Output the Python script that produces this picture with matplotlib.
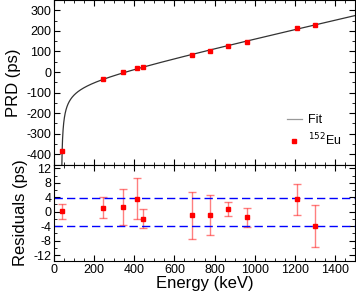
import numpy as np
import matplotlib.pyplot as plt
from matplotlib.ticker import MultipleLocator

plt.rcParams['font.family'] = ['Liberation Sans', 'DejaVu Sans']
plt.rcParams['axes.unicode_minus'] = False

# 152Eu lines (keV) and measured PRD (ps)
energy = np.array([40.0, 244.7, 344.3, 411.1, 444.0, 688.7, 778.9, 867.4, 964.1, 1212.9, 1299.1])
prd = np.array([-384, -34, -2, 18, 23, 81, 104, 128, 147, 214, 230])

# residuals of the fit (ps) with their uncertainties
resid = np.array([0.1, 1.1, 1.4, 3.6, -1.9, -1.0, -1.0, 0.8, -1.5, 3.4, -3.9])
resid_err = np.array([2.15, 2.9, 5.0, 5.6, 2.7, 6.4, 5.5, 1.9, 2.6, 4.25, 5.75])
band = 3.9

# fit PRD(E) = a/sqrt(E+b) + c*E + d with the offset b fixed
b_fit = -35.0
A = np.column_stack([1 / np.sqrt(energy + b_fit), energy, np.ones_like(energy)])
(a_fit, c_fit, d_fit), *_ = np.linalg.lstsq(A, prd, rcond=None)

e_fit = -b_fit + np.geomspace(0.01, 1500 + b_fit, 2000)
prd_fit = a_fit / np.sqrt(e_fit + b_fit) + c_fit * e_fit + d_fit

fig = plt.figure(figsize=(3.56, 2.91), dpi=100)
ax1 = fig.add_axes([0.152, 0.433, 0.845, 0.567])
ax2 = fig.add_axes([0.152, 0.103, 0.845, 0.330], sharex=ax1)

ax1.plot(e_fit, prd_fit, color='0.2', lw=0.9, label='Fit')
ax1.plot(energy, prd, 's', color='red', ms=3, label='$^{152}$Eu')
ax1.set_ylim(-452, 350)
ax1.set_ylabel('PRD (ps)', fontsize=12)
leg = ax1.legend(loc='lower right', bbox_to_anchor=(0.985, 0.05), frameon=False,
                 fontsize=9, handlelength=1.2, handletextpad=0.5, labelspacing=0.4,
                 borderpad=0.2)
leg.get_lines()[0].set_color('0.6')

ax2.errorbar(energy, resid, yerr=resid_err, fmt='s', color='red', ms=3,
             ecolor=(1, 0, 0, 0.5), elinewidth=1, capsize=3, capthick=1)
ax2.axhline(band, color='blue', ls='--', lw=1, dashes=(6, 3))
ax2.axhline(-band, color='blue', ls='--', lw=1, dashes=(6, 3))
ax2.set_ylim(-13.6, 12.9)
ax2.set_xlim(0, 1500)
ax2.set_xlabel('Energy (keV)', fontsize=12, labelpad=0)
ax2.set_ylabel('Residuals (ps)', fontsize=12)

ax1.yaxis.set_major_locator(MultipleLocator(100))
ax1.yaxis.set_minor_locator(MultipleLocator(50))
ax2.yaxis.set_major_locator(MultipleLocator(4))
ax2.yaxis.set_minor_locator(MultipleLocator(2))
ax2.xaxis.set_major_locator(MultipleLocator(200))
ax2.xaxis.set_minor_locator(MultipleLocator(50))

for ax in (ax1, ax2):
    ax.tick_params(which='both', direction='in', top=True, right=True,
                   labelsize=9, pad=2)
    ax.tick_params(which='major', length=4, width=0.8)
    ax.tick_params(which='minor', length=2, width=0.6)
ax1.tick_params(labelbottom=False)

fig.align_ylabels([ax1, ax2])
fig.savefig('out.png', dpi=100)
